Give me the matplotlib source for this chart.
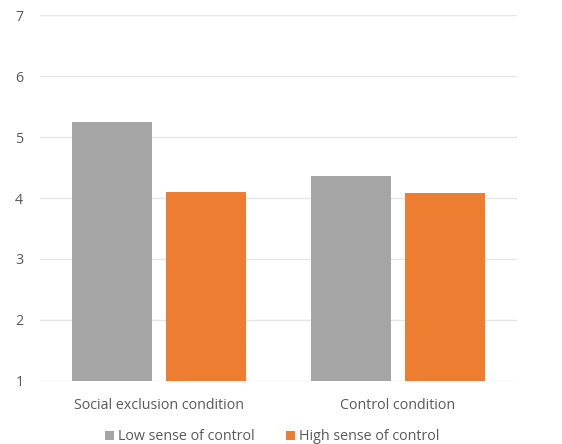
import numpy as np
import matplotlib.pyplot as plt

# chart data
conditions = ["Social exclusion condition", "Control condition"]
low_control = [5.24, 4.36]
high_control = [4.10, 4.09]
series_names = ["Low sense of control", "High sense of control"]
yticks = [1, 2, 3, 4, 5, 6, 7]

plt.rcParams['font.family'] = ['Open Sans', 'DejaVu Sans']

fig = plt.figure(figsize=(5.62, 4.44), dpi=100)
ax = fig.add_axes([0.0712, 0.142, 0.8488, 0.824])

x = np.arange(len(conditions))
w = 0.335
off = 0.197
ax.bar(x - off, np.array(low_control) - 1, w, bottom=1, color='#A5A5A5', label=series_names[0], zorder=3)
ax.bar(x + off, np.array(high_control) - 1, w, bottom=1, color='#ED7D31', label=series_names[1], zorder=3)

ax.set_xlim(-0.5, 1.5)
ax.set_ylim(1, 7)
ax.set_yticks(yticks)
ax.set_xticks(x)
ax.set_xticklabels(conditions)
ax.grid(axis='y', color='#E6E6E6', linewidth=1, zorder=0)
ax.set_axisbelow(True)
for s in ax.spines.values():
    s.set_visible(False)
ax.tick_params(length=0, labelsize=10.3, colors='#595959')
ax.tick_params(axis='x', pad=12)
ax.tick_params(axis='y', pad=12)

leg = fig.legend(loc='lower center', bbox_to_anchor=(0.485, -0.03), ncol=2, frameon=False,
                 fontsize=10.3, handlelength=0.6, handleheight=0.6, handletextpad=0.3,
                 columnspacing=2.2, labelcolor='#595959')

fig.savefig("out.png", dpi=100)
